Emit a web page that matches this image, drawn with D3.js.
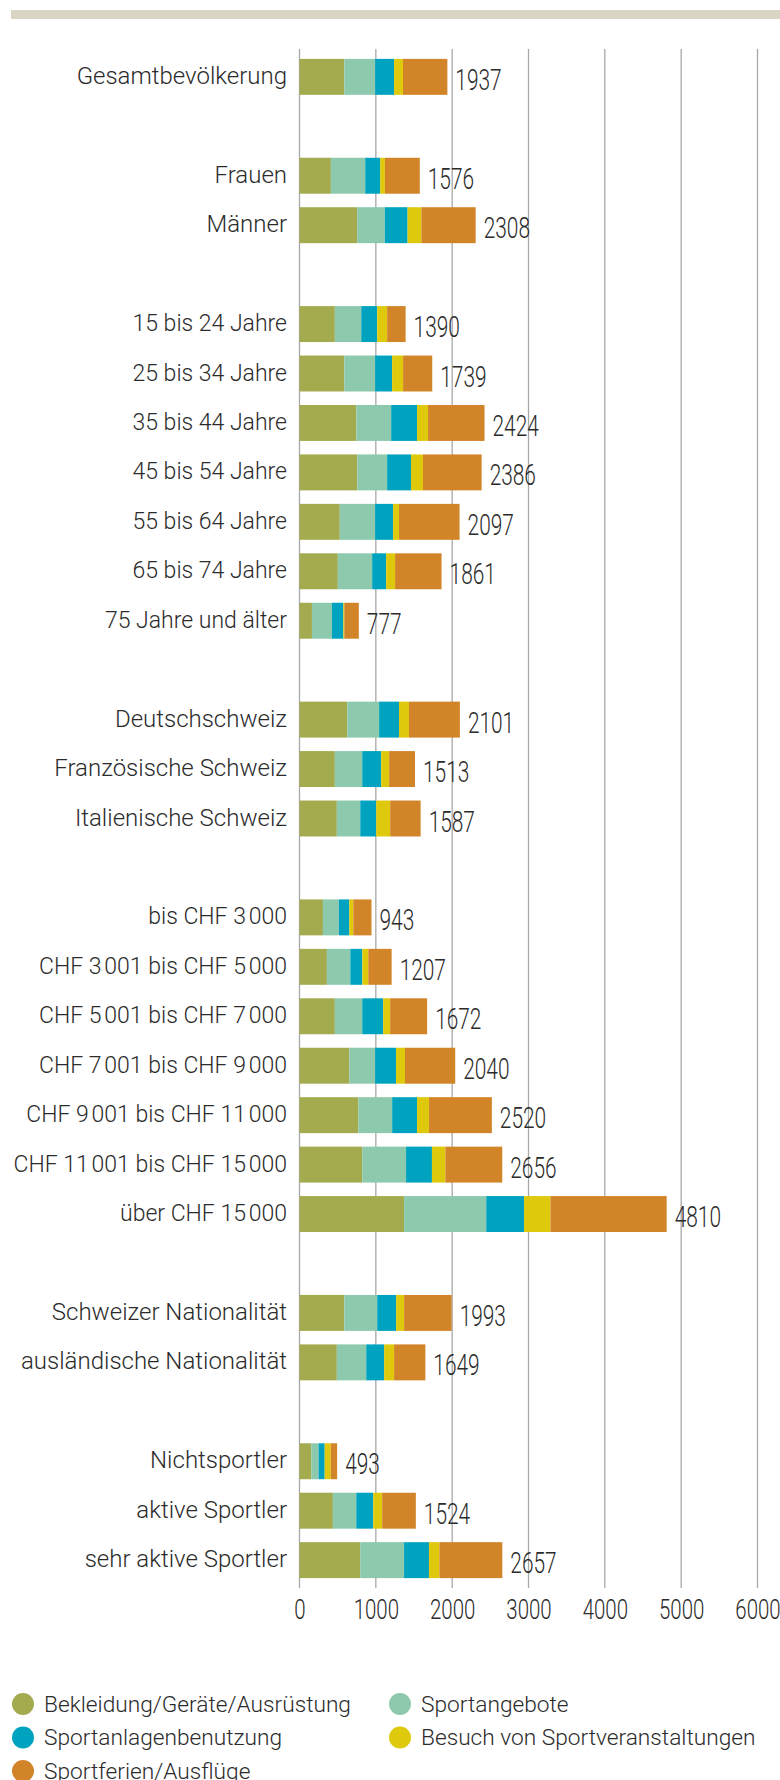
<!DOCTYPE html>
<html>
<head>
<meta charset="utf-8">
<script src="https://cdn.jsdelivr.net/npm/d3@7"></script>
<style>
  body { margin: 0; background: #fff; }
  svg text { fill: #2b2b2b; }
  .cat-label { font-family: Roboto, "Open Sans", sans-serif; font-weight: 300; font-size: 24px; }
  .num { font-family: Roboto, "Open Sans", sans-serif; font-weight: 300; }
  .legend-label { font-family: Roboto, "Open Sans", sans-serif; font-weight: 300; font-size: 22.7px; }
</style>
</head>
<body>
<svg id="chart" width="780" height="1780"></svg>
<script>
// category groups (a blank row is left between groups)
const groups = [
  ["Gesamtbevölkerung"],
  ["Frauen", "Männer"],
  ["15 bis 24 Jahre", "25 bis 34 Jahre", "35 bis 44 Jahre", "45 bis 54 Jahre", "55 bis 64 Jahre", "65 bis 74 Jahre", "75 Jahre und älter"],
  ["Deutschschweiz", "Französische Schweiz", "Italienische Schweiz"],
  ["bis CHF 3\u202F000", "CHF 3\u202F001 bis CHF 5\u202F000", "CHF 5\u202F001 bis CHF 7\u202F000", "CHF 7\u202F001 bis CHF 9\u202F000", "CHF 9\u202F001 bis CHF 11\u202F000", "CHF 11\u202F001 bis CHF 15\u202F000", "über CHF 15\u202F000"],
  ["Schweizer Nationalität", "ausländische Nationalität"],
  ["Nichtsportler", "aktive Sportler", "sehr aktive Sportler"]
];

const seriesNames = ["Bekleidung/Geräte/Ausrüstung", "Sportangebote", "Sportanlagenbenutzung", "Besuch von Sportveranstaltungen", "Sportferien/Ausflüge"];
const seriesColors = ["#a3ab4e", "#8dcaad", "#00a3bf", "#dfc90c", "#d28428"];

const bekleidung = [587, 411, 755, 463, 587, 744, 757, 528, 502, 163, 626, 463, 489, 307, 359, 463, 652, 770, 822, 1370, 587, 489, 155, 437, 796];
const angebote   = [404, 450, 363, 346, 404, 457, 391, 463, 450, 261, 417, 359, 307, 209, 307, 359, 339, 444, 574, 1076, 431, 385, 95, 307, 574];
const anlagen    = [248, 196, 298, 209, 222, 339, 313, 235, 183, 150, 261, 248, 209, 137, 157, 274, 274, 326, 339, 496, 248, 235, 80, 222, 326];
const besuch     = [117, 62, 181, 130, 144, 144, 157, 78, 117, 13, 130, 104, 183, 52, 78, 91, 117, 157, 176, 346, 104, 130, 80, 117, 137];
const ferien     = [581, 457, 711, 242, 382, 740, 768, 793, 609, 190, 667, 339, 399, 238, 306, 485, 658, 823, 745, 1522, 623, 410, 83, 441, 824];
const totals     = [1937, 1576, 2308, 1390, 1739, 2424, 2386, 2097, 1861, 777, 2101, 1513, 1587, 943, 1207, 1672, 2040, 2520, 2656, 4810, 1993, 1649, 493, 1524, 2657];

const xTicks = [0, 1000, 2000, 3000, 4000, 5000, 6000];

const svg = d3.select("#chart");

// build rows with gap slots between the groups
const categories = groups.flat();
const slots = [];
groups.forEach((g, i) => {
  if (i > 0) slots.push("_gap" + i);
  g.forEach(c => slots.push(c));
});

const seriesValues = [bekleidung, angebote, anlagen, besuch, ferien];
const data = categories.map((c, i) => {
  const row = { category: c, total: totals[i] };
  seriesNames.forEach((s, j) => row[s] = seriesValues[j][i]);
  return row;
});

const x = d3.scaleLinear().domain([0, 6000]).range([299.5, 757.5]);
const y = d3.scaleBand().domain(slots).range([49, 1588]).paddingInner(0.273).paddingOuter(0.2);

// top band
svg.append("rect")
  .attr("x", 11).attr("y", 10)
  .attr("width", 769).attr("height", 9)
  .attr("fill", "#d9d4c4");

// gridlines
svg.append("g")
  .selectAll("line")
  .data(xTicks)
  .join("line")
  .attr("x1", d => x(d)).attr("x2", d => x(d))
  .attr("y1", 49).attr("y2", 1588)
  .attr("stroke", "#a8a8a8")
  .attr("stroke-width", 1.3);

// stacked bars
const stacked = d3.stack().keys(seriesNames)(data);

svg.append("g")
  .selectAll("g")
  .data(stacked)
  .join("g")
  .attr("fill", (d, i) => seriesColors[i])
  .selectAll("rect")
  .data(d => d)
  .join("rect")
  .attr("x", d => x(d[0]))
  .attr("y", d => y(d.data.category))
  .attr("width", d => x(d[1]) - x(d[0]))
  .attr("height", y.bandwidth());

// category labels (digits in the original font are narrower)
svg.append("g")
  .selectAll("text")
  .data(data)
  .join("text")
  .attr("class", "cat-label")
  .attr("x", 287)
  .attr("y", d => y(d.category) + y.bandwidth() / 2 + 7)
  .attr("text-anchor", "end")
  .style("font-size", d => /\d/.test(d.category) ? "23px" : null)
  .text(d => d.category);

// total labels (condensed look)
svg.append("g")
  .selectAll("text")
  .data(data)
  .join("text")
  .attr("class", "num")
  .attr("transform", d => `translate(${x(d.total) + 8},${y(d.category) + y.bandwidth() / 2 + 13}) scale(0.72,1)`)
  .style("font-size", "29px")
  .text(d => d.total);

// x axis
const xAxis = svg.append("g")
  .attr("transform", "translate(0,1598)")
  .call(d3.axisBottom(x).tickValues(xTicks).tickSize(0).tickFormat(d3.format("d")));
xAxis.select(".domain").remove();
xAxis.selectAll("text")
  .attr("class", "num")
  .attr("fill", null)
  .attr("dy", null)
  .attr("y", 0)
  .attr("transform", "translate(0,21) scale(0.73,1)")
  .style("font-size", "28px");

// legend
const legendItems = [
  { name: seriesNames[0], color: seriesColors[0], col: 0, row: 0 },
  { name: seriesNames[1], color: seriesColors[1], col: 1, row: 0 },
  { name: seriesNames[2], color: seriesColors[2], col: 0, row: 1 },
  { name: seriesNames[3], color: seriesColors[3], col: 1, row: 1 },
  { name: seriesNames[4], color: seriesColors[4], col: 0, row: 2 }
];
const legendCols = [23, 400];

const legend = svg.append("g")
  .selectAll("g")
  .data(legendItems)
  .join("g")
  .attr("transform", d => `translate(${legendCols[d.col]},${1704 + d.row * 33.5})`);

legend.append("circle")
  .attr("r", 11)
  .attr("fill", d => d.color);

legend.append("text")
  .attr("class", "legend-label")
  .attr("x", 21)
  .attr("y", 7.5)
  .text(d => d.name);
</script>
</body>
</html>
